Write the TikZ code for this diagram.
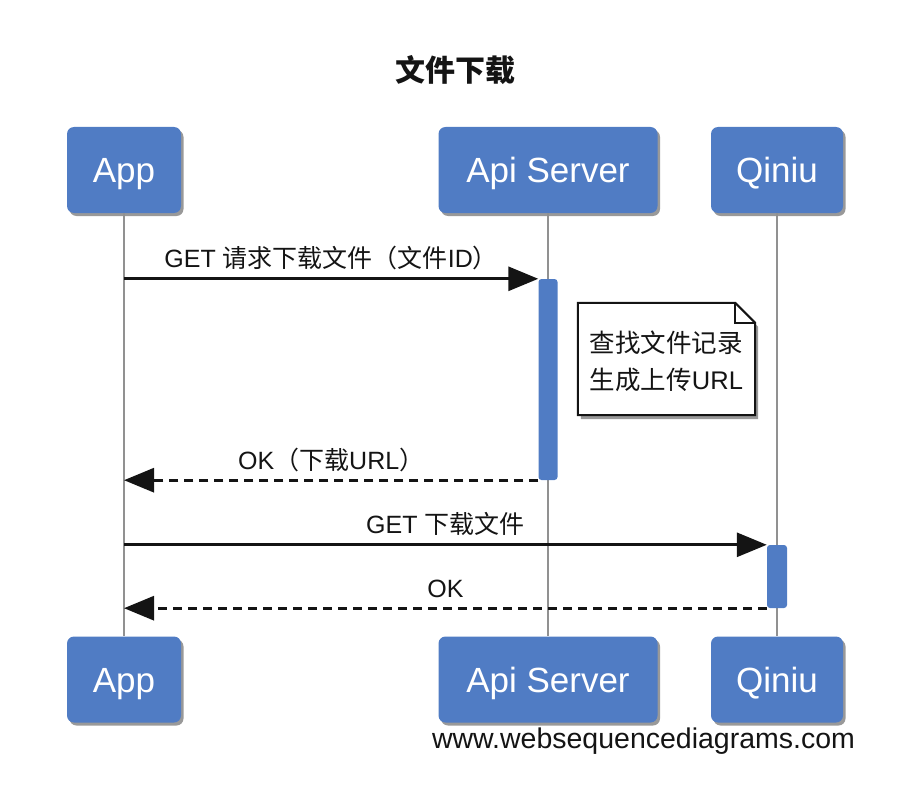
\documentclass[tikz,border=0pt]{standalone}
\usepackage{fontspec}
\setmainfont{Liberation Sans}
\newfontfamily\cjk{Noto Sans CJK SC}
\usetikzlibrary{arrows.meta,shadows,backgrounds}
\definecolor{wsdblue}{RGB}{80,124,196}
\definecolor{lifegray}{RGB}{145,145,145}
\definecolor{ink}{RGB}{20,20,20}
\begin{document}
\begin{tikzpicture}[x=1pt,y=-1pt,
  actor/.style={fill=wsdblue, rounded corners=7pt, text=white,
    font=\fontsize{35}{38}\selectfont, minimum height=86pt, inner sep=0pt,
    text height=25pt, text depth=0pt,
    drop shadow={shadow xshift=2.5pt, shadow yshift=-3pt, opacity=0.4, fill=black}},
  life/.style={draw=lifegray, line width=2.5pt},
  actbar/.style={fill=wsdblue, rounded corners=3pt, inner sep=0pt},
  msg/.style={draw=ink, line width=3pt, -{Triangle[length=30pt,width=24pt]}},
  reply/.style={msg, dash pattern=on 9pt off 6pt},
  lbl/.style={font=\fontsize{25}{28}\selectfont, text=ink, midway, anchor=base, yshift=11pt, inner sep=0pt},
  notebox/.style={minimum width=177pt, minimum height=112pt, inner sep=0pt, align=left,
    font=\fontsize{25.5}{37}\selectfont, text=ink},
  noteline/.style={draw=ink, line width=2pt, fill=white,
    drop shadow={shadow xshift=3pt, shadow yshift=-4pt, opacity=0.4, fill=black}}
]
\useasboundingbox (0,0) rectangle (906,800);

% title
\node[font=\cjk\bfseries\fontsize{30}{34}\selectfont, text=ink] (title) at (455,70) {文件下载};

% actors
\node[actor, minimum width=114pt] (appT) at (124,170) {App};
\node[actor, minimum width=219pt] (apiT) at (548,170) {Api Server};
\node[actor, minimum width=132pt] (qiT)  at (777,170) {Qiniu};
\node[actor, minimum width=114pt] (appB) at (124,679.5) {App};
\node[actor, minimum width=219pt] (apiB) at (548,679.5) {Api Server};
\node[actor, minimum width=132pt] (qiB)  at (777,679.5) {Qiniu};

% lifelines
\draw[life] (appT.south) -- (appB.north);
\draw[life] (apiT.south) -- (apiB.north);
\draw[life] (qiT.south) -- (qiB.north);

% activations
\node[actbar, minimum width=19pt, minimum height=201pt] (act1) at (548,379.5) {};
\node[actbar, minimum width=20pt, minimum height=63pt] (act2) at (777,576.5) {};

% lifeline points
\coordinate (p1) at (act1.north west -| appT.south);
\coordinate (p2) at (act1.south west -| appT.south);
\coordinate (p3) at (act2.north west -| appT.south);
\coordinate (p4) at (act2.south west -| appT.south);

% messages
\draw[msg] (p1) -- node[lbl] {GET {\cjk 请求下载文件（文件}ID{\cjk ）}} (act1.north west);
\draw[reply] (act1.south west) -- node[lbl] {OK{\cjk （下载}URL{\cjk ）}} (p2);
\draw[msg] (p3) -- node[lbl] {GET {\cjk 下载文件}} (act2.north west);
\draw[reply] (act2.south west) -- node[lbl] {OK} (p4);

% note
\node[notebox] (note) at (666.5,361) {{\cjk 查找文件记录}\\{\cjk 生成上传}URL};
\begin{scope}[on background layer]
\draw[noteline] ([yshift=2pt]note.north west) -- ([xshift=-20pt,yshift=2pt]note.north east)
  -- ([yshift=-18pt]note.north east) -- ([yshift=2pt]note.south east) -- ([yshift=2pt]note.south west) -- cycle;
\draw[draw=ink, line width=1.5pt] ([xshift=-20pt,yshift=2pt]note.north east)
  -- ([xshift=-20pt,yshift=-18pt]note.north east) -- ([yshift=-18pt]note.north east);
\end{scope}

% watermark
\node[font=\fontsize{28.5}{32}\selectfont, text=ink] (wm) at (643.5,741) {www.websequencediagrams.com};
\end{tikzpicture}
\end{document}
